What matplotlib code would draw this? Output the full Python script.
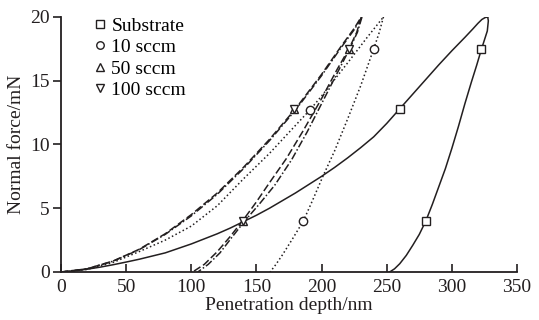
import matplotlib.pyplot as plt

plt.rcParams['font.family'] = ['Liberation Serif', 'DejaVu Serif']

ink = '#231f20'

# Substrate (solid)
sub_load_h = [0, 10, 20, 30, 40, 50, 60, 70, 80, 90, 100, 110, 120, 130, 140, 150, 160, 170, 180, 190,
              200, 210, 220, 230, 240, 250, 260, 270, 280, 290, 300, 310, 316, 320, 323, 325.5, 327.5]
sub_load_f = [0, 0.08, 0.22, 0.38, 0.57, 0.78, 1.0, 1.25, 1.5, 1.85, 2.2, 2.6, 3.0, 3.45, 3.95, 4.45, 5.0, 5.6, 6.2, 6.85,
              7.5, 8.2, 8.95, 9.75, 10.6, 11.65, 12.8, 13.95, 15.1, 16.25, 17.35, 18.4, 19.05, 19.5, 19.8, 19.95, 20.0]
sub_unl_h = [327.5, 328, 327.2, 325, 322.5, 319, 315, 310, 305, 300, 295, 290, 285, 280, 275, 270, 265, 260, 256, 253, 252]
sub_unl_f = [20.0, 19.7, 18.9, 18.2, 17.4, 16.2, 14.9, 13.2, 11.4, 9.7, 8.1, 6.7, 5.3, 4.0, 2.95, 2.1, 1.3, 0.65, 0.25, 0.05, 0]

# 10 sccm (dotted)
s10_load_h = [0, 20, 40, 60, 80, 100, 120, 140, 160, 180, 191, 200, 220, 235, 247.5]
s10_load_f = [0, 0.2, 0.75, 1.6, 2.5, 3.6, 5.2, 7.3, 9.3, 11.5, 12.7, 13.8, 16.4, 18.4, 20.0]
s10_unl_h = [247.5, 244, 240, 230, 220, 210, 201, 193, 186, 178, 170, 165, 160.5]
s10_unl_f = [20.0, 18.7, 17.5, 14.6, 12.0, 9.5, 7.5, 5.6, 4.0, 2.65, 1.35, 0.6, 0]

# 50 sccm (dash-dot)
s50_load_h = [0, 20, 40, 60, 80, 100, 120, 140, 160, 180, 200, 215, 225, 231]
s50_load_f = [0, 0.25, 0.85, 1.75, 2.95, 4.4, 6.1, 8.1, 10.3, 12.7, 15.4, 17.6, 19.0, 20.0]
s50_unl_h = [231, 227.5, 221.5, 213, 201, 189, 177, 164, 152, 141, 131, 122, 113, 105]
s50_unl_f = [20.0, 18.8, 17.5, 15.8, 13.4, 11.0, 8.8, 6.8, 5.3, 4.0, 2.7, 1.5, 0.6, 0]

# 100 sccm (dashed)
s100_load_h = [0, 20, 40, 60, 80, 100, 120, 140, 160, 180, 200, 215, 225, 230.5]
s100_load_f = [0, 0.25, 0.86, 1.78, 3.0, 4.5, 6.2, 8.2, 10.4, 12.8, 15.5, 17.7, 19.1, 20.0]
s100_unl_h = [230.5, 227, 221, 212, 200, 186, 173, 160, 150, 140, 130, 120, 110, 101]
s100_unl_f = [20.0, 18.8, 17.5, 15.9, 13.6, 11.1, 8.9, 7.0, 5.5, 4.1, 2.8, 1.6, 0.6, 0]

# symbol positions
sub_mk_h = [260, 322.5, 280]
sub_mk_f = [12.8, 17.5, 4.0]
s10_mk_h = [191, 240, 186]
s10_mk_f = [12.7, 17.5, 4.0]
s50_mk_h = [179, 221, 140]
s50_mk_f = [12.8, 17.5, 4.0]
s100_mk_h = [179, 221, 140]
s100_mk_f = [12.8, 17.5, 4.0]

labels = ['Substrate', '10 sccm', '50 sccm', '100 sccm']
markers = ['s', 'o', '^', 'v']

fig = plt.figure(figsize=(5.39, 3.2), dpi=100)
ax = fig.add_axes([0.1132, 0.15, 0.846, 0.797])

ax.plot(sub_load_h, sub_load_f, '-', color=ink, lw=1.1)
ax.plot(sub_unl_h, sub_unl_f, '-', color=ink, lw=1.1)
ax.plot(s10_load_h, s10_load_f, ':', color=ink, lw=1.1)
ax.plot(s10_unl_h, s10_unl_f, ':', color=ink, lw=1.1)
ax.plot(s50_load_h, s50_load_f, '-.', color=ink, lw=1.1, dashes=(5, 1.5, 1, 1.5))
ax.plot(s50_unl_h, s50_unl_f, '-.', color=ink, lw=1.1, dashes=(5, 1.5, 1, 1.5))
ax.plot(s100_load_h, s100_load_f, '--', color=ink, lw=1.1, dashes=(5, 2))
ax.plot(s100_unl_h, s100_unl_f, '--', color=ink, lw=1.1, dashes=(5, 2))

mk_sets = [(sub_mk_h, sub_mk_f), (s10_mk_h, s10_mk_f), (s50_mk_h, s50_mk_f), (s100_mk_h, s100_mk_f)]
handles = []
for (hx, fy), m, lab in zip(mk_sets, markers, labels):
    ln, = ax.plot(hx, fy, linestyle='none', marker=m, ms=6, mfc='white',
                  mec=ink, mew=1.0, label=lab, zorder=5)
    handles.append(ln)

ax.legend(handles=handles, loc='upper left', bbox_to_anchor=(0.055, 1.03),
          frameon=False, fontsize=14, handlelength=0.6, handletextpad=0.3,
          labelspacing=0.2, borderaxespad=0, markerscale=0.9)

ax.set_xlim(0, 350)
ax.set_ylim(0, 20)
ax.set_xticks([0, 50, 100, 150, 200, 250, 300, 350])
ax.set_yticks([0, 5, 10, 15, 20])
ax.spines['top'].set_visible(False)
ax.spines['right'].set_visible(False)
for s in ['left', 'bottom']:
    ax.spines[s].set_color(ink)
    ax.spines[s].set_linewidth(1.3)
ax.tick_params(axis='x', direction='in', length=6, width=1.2, colors=ink, labelsize=14, pad=5)
ax.tick_params(axis='y', direction='out', length=6, width=1.2, colors=ink, labelsize=14, pad=2)
ax.set_xlabel('Penetration depth/nm', fontsize=14, color=ink, labelpad=1)
ax.set_ylabel('Normal force/mN', fontsize=14, color=ink, labelpad=4)

fig.savefig('out.png', dpi=100)
